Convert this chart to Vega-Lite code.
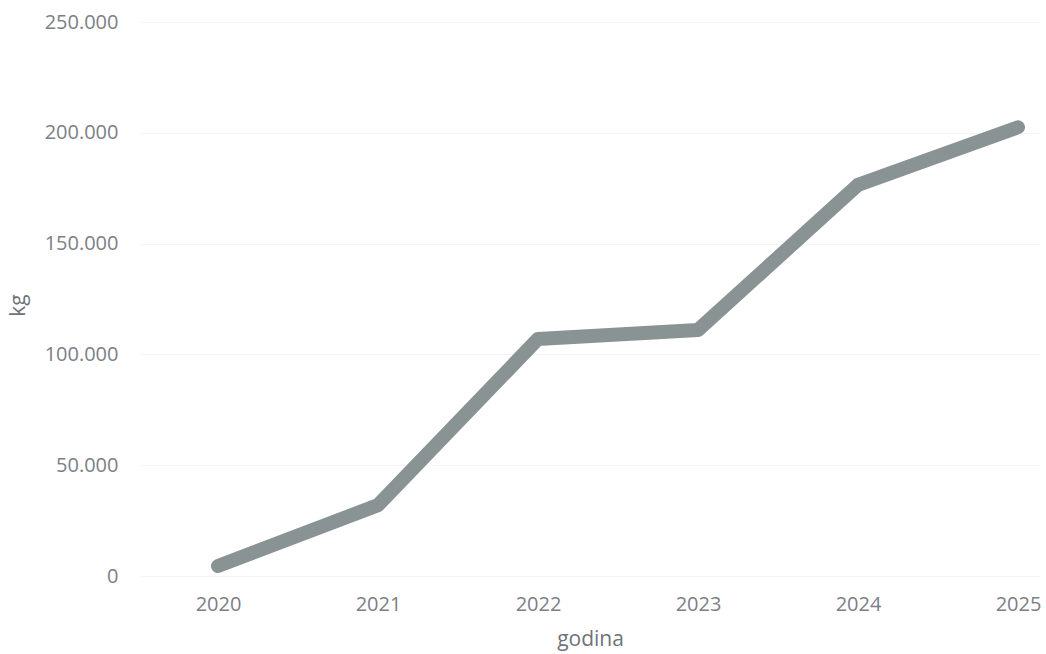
{
  "$schema": "https://vega.github.io/schema/vega-lite/v6.json",
  "autosize": "none",
  "width": 900,
  "height": 554,
  "padding": {"left": 140, "top": 22, "right": 6, "bottom": 78},
  "background": "white",
  "config": {
    "view": {"stroke": null},
    "locale": {"number": {"decimal": ",", "thousands": ".", "grouping": [3], "currency": ["", " €"]}},
    "axis": {"labelFont": "Open Sans", "titleFont": "Open Sans", "labelColor": "#7c8086", "titleColor": "#6f7378", "labelFontSize": 20, "titleFontSize": 21, "titleFontWeight": "normal", "domain": false, "ticks": false, "gridColor": "#f4f4f4"}
  },
  "data": {"values": [
    {"godina": 2020, "kg": 4500},
    {"godina": 2021, "kg": 32000},
    {"godina": 2022, "kg": 107000},
    {"godina": 2023, "kg": 111000},
    {"godina": 2024, "kg": 176500},
    {"godina": 2025, "kg": 202500}
  ]},
  "mark": {"type": "line", "color": "#8a9393", "strokeWidth": 14, "strokeCap": "round", "strokeJoin": "round"},
  "encoding": {
    "x": {"field": "godina", "type": "quantitative", "scale": {"domain": [2019.5125, 2025.1375], "nice": false, "zero": false}, "axis": {"values": [2020, 2021, 2022, 2023, 2024, 2025], "format": "d", "grid": false, "labelPadding": 18, "title": "godina", "titlePadding": 14}},
    "y": {"field": "kg", "type": "quantitative", "scale": {"domain": [0, 250000], "nice": false}, "axis": {"values": [0, 50000, 100000, 150000, 200000, 250000], "format": ",d", "labelPadding": 22, "title": "kg", "titleX": -112, "titleY": 283}}
  }
}
